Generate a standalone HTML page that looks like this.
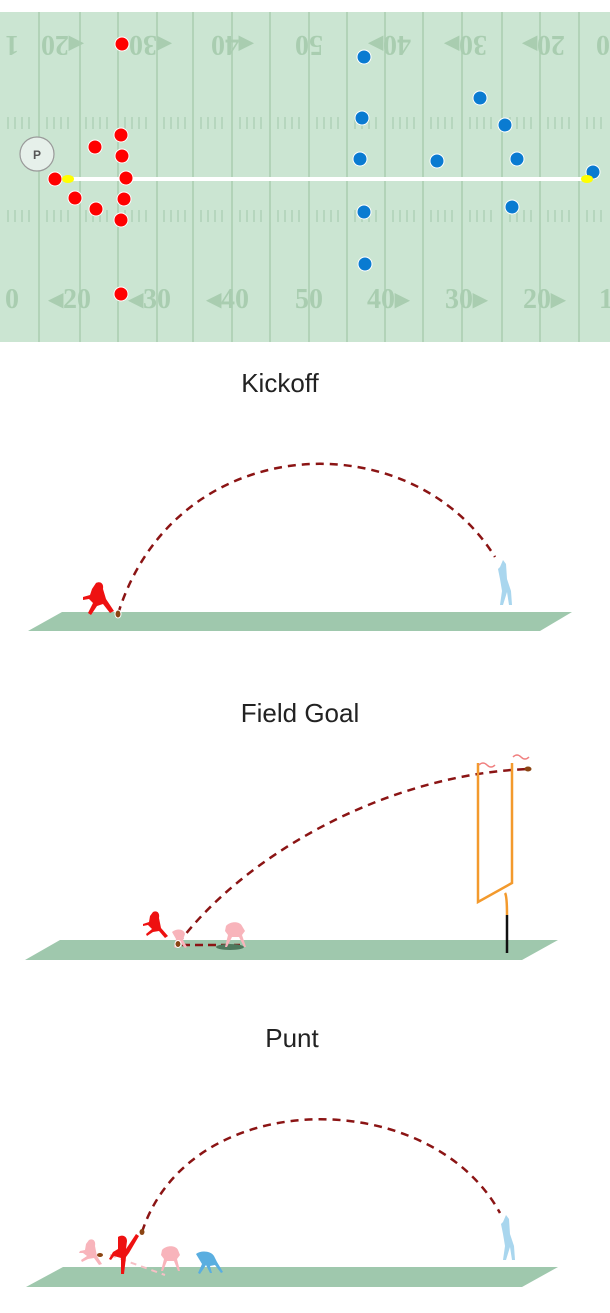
<!DOCTYPE html>
<html><head><meta charset="utf-8"><style>
html,body{margin:0;padding:0;background:#fff;width:610px;height:1313px;overflow:hidden}
svg{display:block}
text.t{font-family:"Liberation Sans",sans-serif;font-size:26px;fill:#222;text-anchor:middle}
text.n{font-family:"Liberation Serif",serif;font-size:28px;font-weight:bold;fill:#a9cdb0;text-anchor:middle}
.d{fill:none;stroke:#8b1414;stroke-width:2.5;stroke-dasharray:8,6}
</style></head><body>
<svg width="610" height="1313" viewBox="0 0 610 1313">
<rect x="0" y="12" width="610" height="330" fill="#cbe5d2"/>
<g stroke="#a9cdb0" stroke-width="1.5">
<line x1="39" y1="12" x2="39" y2="342"/><line x1="80" y1="12" x2="80" y2="342"/><line x1="118" y1="12" x2="118" y2="342"/><line x1="157" y1="12" x2="157" y2="342"/><line x1="193" y1="12" x2="193" y2="342"/><line x1="232" y1="12" x2="232" y2="342"/><line x1="270" y1="12" x2="270" y2="342"/><line x1="309" y1="12" x2="309" y2="342"/><line x1="347" y1="12" x2="347" y2="342"/><line x1="385" y1="12" x2="385" y2="342"/><line x1="423" y1="12" x2="423" y2="342"/><line x1="462" y1="12" x2="462" y2="342"/><line x1="502" y1="12" x2="502" y2="342"/><line x1="540" y1="12" x2="540" y2="342"/><line x1="579" y1="12" x2="579" y2="342"/>
</g>
<g stroke="#a9cdb0" stroke-width="1.2" id="h">
<path d="M8 117v12M15 117v12M22 117v12M29 117v12M47 117v12M54 117v12M61 117v12M68 117v12M86 117v12M93 117v12M100 117v12M107 117v12M125 117v12M132 117v12M139 117v12M146 117v12M164 117v12M171 117v12M178 117v12M185 117v12M201 117v12M208 117v12M215 117v12M222 117v12M240 117v12M247 117v12M254 117v12M261 117v12M278 117v12M285 117v12M292 117v12M299 117v12M317 117v12M324 117v12M331 117v12M338 117v12M355 117v12M362 117v12M369 117v12M376 117v12M393 117v12M400 117v12M407 117v12M414 117v12M431 117v12M438 117v12M445 117v12M452 117v12M470 117v12M477 117v12M484 117v12M491 117v12M510 117v12M517 117v12M524 117v12M531 117v12M548 117v12M555 117v12M562 117v12M569 117v12M587 117v12M594 117v12M601 117v12"/>
</g>
<use href="#h" y="93"/>
<g>
<text class="n" x="12" y="56" transform="rotate(180 12 46)">1</text>
<text class="n" x="62" y="56" transform="rotate(180 62 46)">◂20</text>
<text class="n" x="150" y="56" transform="rotate(180 150 46)">◂30</text>
<text class="n" x="232" y="56" transform="rotate(180 232 46)">◂40</text>
<text class="n" x="309" y="56" transform="rotate(180 309 46)">50</text>
<text class="n" x="390" y="56" transform="rotate(180 390 46)">40▸</text>
<text class="n" x="466" y="56" transform="rotate(180 466 46)">30▸</text>
<text class="n" x="544" y="56" transform="rotate(180 544 46)">20▸</text>
<text class="n" x="603" y="56" transform="rotate(180 603 46)">0</text>
<text class="n" x="12" y="308">0</text>
<text class="n" x="70" y="308">◂20</text>
<text class="n" x="150" y="308">◂30</text>
<text class="n" x="228" y="308">◂40</text>
<text class="n" x="309" y="308">50</text>
<text class="n" x="388" y="308">40▸</text>
<text class="n" x="466" y="308">30▸</text>
<text class="n" x="544" y="308">20▸</text>
<text class="n" x="606" y="308">1</text>
</g>
<line x1="66" y1="179" x2="585" y2="179" stroke="#fff" stroke-width="4"/>
<circle cx="37" cy="154" r="17" fill="#e6f0ea" stroke="#999" stroke-width="1.2"/>
<text x="37" y="159" font-family="Liberation Sans,sans-serif" font-size="12" font-weight="bold" fill="#555" text-anchor="middle">P</text>
<g fill="#f00" stroke="#fff" stroke-width="1">
<circle cx="122" cy="44" r="7"/><circle cx="95" cy="147" r="7"/><circle cx="121" cy="135" r="7"/><circle cx="122" cy="156" r="7"/><circle cx="126" cy="178" r="7"/><circle cx="55" cy="179" r="7"/><circle cx="75" cy="198" r="7"/><circle cx="96" cy="209" r="7"/><circle cx="124" cy="199" r="7"/><circle cx="121" cy="220" r="7"/><circle cx="121" cy="294" r="7"/>
</g>
<g fill="#0a7bd1" stroke="#fff" stroke-width="1">
<circle cx="364" cy="57" r="7"/><circle cx="480" cy="98" r="7"/><circle cx="362" cy="118" r="7"/><circle cx="505" cy="125" r="7"/><circle cx="360" cy="159" r="7"/><circle cx="437" cy="161" r="7"/><circle cx="517" cy="159" r="7"/><circle cx="593" cy="172" r="7"/><circle cx="364" cy="212" r="7"/><circle cx="512" cy="207" r="7"/><circle cx="365" cy="264" r="7"/>
</g>
<ellipse cx="68" cy="179" rx="6" ry="4" fill="#ff0"/><ellipse cx="587" cy="179" rx="6" ry="4" fill="#ff0"/>

<text class="t" x="280" y="392">Kickoff</text>
<polygon points="62,612 572,612 540,631 28,631" fill="#9fc8ad"/>
<path class="d" d="M118 614 C175 430 410 420 495 557"/>
<ellipse cx="118" cy="614" rx="3" ry="4" fill="#8b4513" stroke="#fff" stroke-width="1"/>
<path d="M96 583c4-2 8 0 7 6l3 10 8 12-4 2-7-9-6 2-6 9-3-2 5-10-4-4-6 1 0-3 7-2 2-6z" fill="#e11"/>
<path d="M503 560l3 4 1 15 4 12 1 14-3 0-2-13-4 13-3 0 2-14-2-12-2-10 2-2z" fill="#a9d6ee"/>

<text class="t" x="300" y="722">Field Goal</text>
<polygon points="60,940 558,940 522,960 25,960" fill="#9fc8ad"/>
<path class="d" d="M178 944 C240 860 380 775 528 769"/>
<line x1="182" y1="945" x2="240" y2="945" stroke="#8b1414" stroke-width="2.5" stroke-dasharray="8,5"/>
<ellipse cx="230" cy="947" rx="14" ry="3" fill="#4e7a5e"/>
<path d="M226 926c4-5 14-5 16 0l3 5-3 4 4 12-2 0-5-10-7 0-5 10-2 0 3-12-3-4z" fill="#f8b4bb"/>
<path d="M172 932c5-4 12-3 13 2l-2 6 4 7-2 1-5-6-4 6-2-1 2-8z" fill="#f8b4bb"/>
<path d="M153 912c4-2 7 1 6 6l2 10 7 8-3 2-6-7-6 1-6 4-1-2 6-5-4-4-5 1 0-2 6-2 1-6z" fill="#e11"/>
<ellipse cx="178" cy="944" rx="3" ry="3.5" fill="#8b4513" stroke="#fff" stroke-width="1"/>
<ellipse cx="528" cy="769" rx="3.5" ry="2.5" fill="#8b4513"/>
<path d="M478 763V902L512 883V763M505 893q2 3 2 22" fill="none" stroke="#f39a2d" stroke-width="2.5"/>
<line x1="507" y1="915" x2="507" y2="953" stroke="#111" stroke-width="2.5"/>
<path d="M479 765q4-4 8 0t8 0M513 757q4-4 8 0t8 0" fill="none" stroke="#f08080" stroke-width="1.5"/>

<text class="t" x="292" y="1047">Punt</text>
<polygon points="63,1267 558,1267 522,1287 26,1287" fill="#9fc8ad"/>
<path class="d" d="M142 1232 C190 1085 430 1085 500 1213"/>
<line x1="110" y1="1255" x2="165" y2="1275" stroke="#f6c0c5" stroke-width="2" stroke-dasharray="6,5"/>
<path d="M89 1240c4-2 7 1 6 6l2 10 5 8-3 1-5-7-6 1-6 3-1-2 6-4-4-3-4 0 1-2 5-1 1-6z" fill="#f8b4bb"/>
<path d="M118 1237c4-3 9-1 9 4l-1 8 10-15 3 2-10 17-3 4-2 17-3 0 0-16-7-2-3 4-2-1 4-7 5-3z" fill="#e11"/>
<path d="M162 1250c4-5 14-5 16 0l2 5-3 4 3 12-2 0-4-10-7 0-4 10-2 0 3-12-3-4z" fill="#f8b4bb"/>
<path d="M196 1254c5-4 15-3 18 2l3 6 6 10-2 1-6-8-5 1 2 7-2 0-4-8-6 9-2-1 4-9-3-5z" fill="#5aaee0"/>
<ellipse cx="100" cy="1255" rx="3" ry="2" fill="#8b4513"/>
<ellipse cx="142" cy="1232" rx="2.5" ry="3" fill="#8b4513"/>
<path d="M506 1215l3 4 1 15 4 12 1 14-3 0-2-13-4 13-3 0 2-14-2-12-2-10 2-2z" fill="#a9d6ee"/>
</svg>
</body></html>
